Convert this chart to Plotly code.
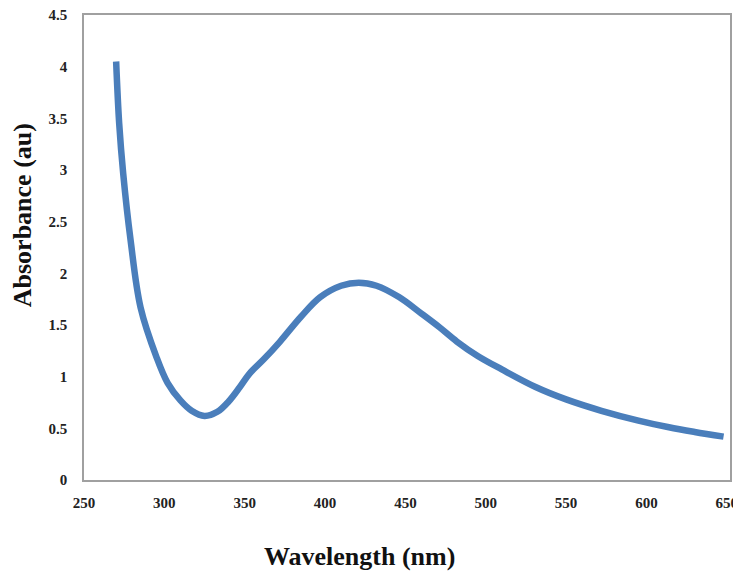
import plotly.graph_objects as go

wavelength = [270, 271.9, 274.4, 279, 285.2, 295.1, 302, 310, 317, 325, 333, 340, 347, 353, 362,
              372, 385, 397, 410, 421, 432, 446, 460, 471, 482, 495, 510, 531, 550, 572, 595, 614, 630, 648]
absorbance = [4.05, 3.45, 2.965, 2.32, 1.67, 1.19, 0.94, 0.77, 0.67, 0.62, 0.66, 0.76, 0.90, 1.03, 1.17,
              1.34, 1.58, 1.77, 1.88, 1.91, 1.88, 1.77, 1.61, 1.48, 1.34, 1.20, 1.07, 0.90, 0.78, 0.67,
              0.575, 0.51, 0.465, 0.42]

x_ticks = [250, 300, 350, 400, 450, 500, 550, 600, 650]
y_ticks = [0, 0.5, 1, 1.5, 2, 2.5, 3, 3.5, 4, 4.5]
y_tick_labels = ["0", "0.5", "1", "1.5", "2", "2.5", "3", "3.5", "4", "4.5"]

fig = go.Figure()
fig.add_trace(go.Scatter(
    x=wavelength, y=absorbance, mode="lines",
    line=dict(color="#4A7EBB", width=6.5, shape="spline", smoothing=1.0),
    showlegend=False,
))

tick_font = dict(family="Liberation Serif", size=15, color="#222222", weight="bold")

fig.update_layout(
    width=733, height=572,
    margin=dict(l=84, r=3, t=15, b=92),
    paper_bgcolor="white", plot_bgcolor="white",
    xaxis=dict(range=[250, 652], tickvals=x_ticks, showgrid=False, zeroline=False,
               showline=True, linecolor="#a0a0a0", linewidth=1.5, mirror=True,
               ticks="", tickfont=tick_font, ticklabelstandoff=8, automargin=False,
               ticklabeloverflow="allow"),
    yaxis=dict(range=[0, 4.5], tickvals=y_ticks, ticktext=y_tick_labels, showgrid=False,
               zeroline=False, showline=True, linecolor="#a0a0a0", linewidth=1.5, mirror=True,
               ticks="", tickfont=tick_font, ticklabelstandoff=12, automargin=False,
               ticklabeloverflow="allow"),
    annotations=[
        dict(text="<b>Wavelength (nm)</b>", xref="paper", yref="paper", x=0.427, y=-0.164,
             xanchor="center", yanchor="middle", showarrow=False,
             font=dict(family="Liberation Serif", size=26, color="#111111")),
        dict(text="<b>Absorbance (au)</b>", xref="paper", yref="paper", x=-0.0947, y=0.569,
             xanchor="center", yanchor="middle", showarrow=False, textangle=-90,
             font=dict(family="Liberation Serif", size=26, color="#111111")),
    ],
)

fig.write_html("out.html", config={"displayModeBar": False},
               post_script="document.body.style.margin='0';document.body.style.overflow='hidden';")
